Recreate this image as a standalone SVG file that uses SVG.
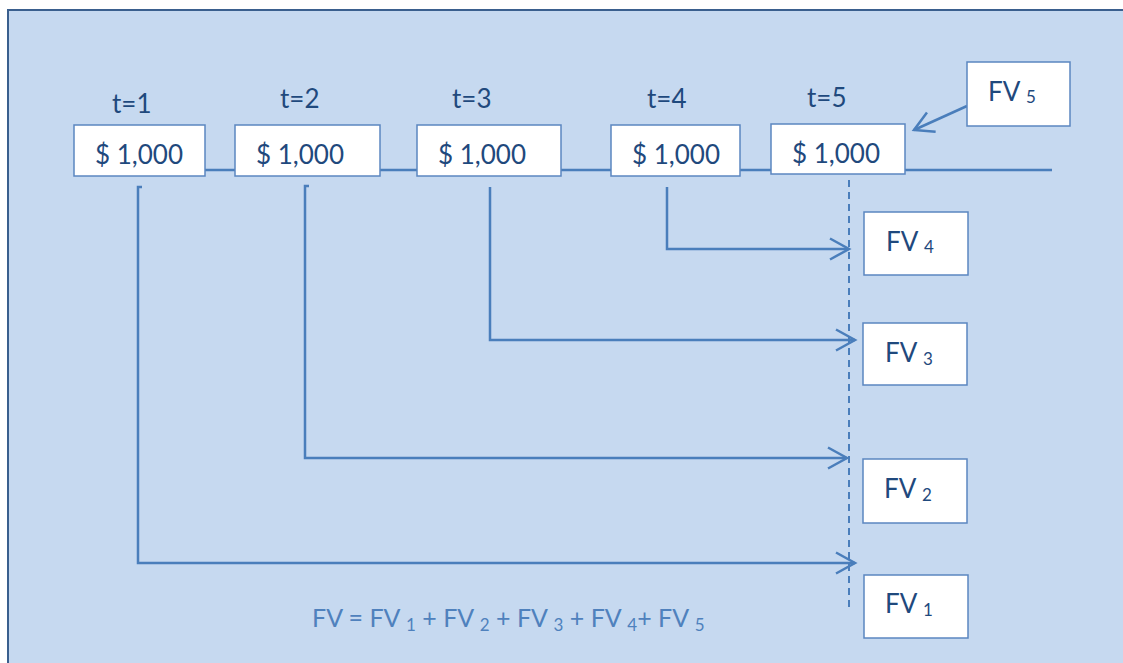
<svg xmlns="http://www.w3.org/2000/svg" width="1123" height="663" viewBox="0 0 1123 663">
  <style>
    .box { fill: #ffffff; stroke: #5B86C0; stroke-width: 1.5; }
    .lbl { font-family: Lato, "Liberation Sans", sans-serif; font-size: 26px; fill: #1F497D; }
    .sub { font-size: 17px; }
    .conn { fill: none; stroke: #4A7EBB; stroke-width: 2.5; }
    .formula { font-family: Lato, "Liberation Sans", sans-serif; font-size: 25px; fill: #4F81BD; }
  </style>
  <defs>
    <marker id="chev" markerUnits="userSpaceOnUse" markerWidth="26" markerHeight="26" viewBox="0 0 26 26" refX="22" refY="13" orient="auto">
      <path d="M3,2.5 L22,13 L3,23.5" fill="none" stroke="#4A7EBB" stroke-width="2.5"/>
    </marker>
  </defs>

  <!-- backdrop panel -->
  <rect x="0" y="0" width="1123" height="663" fill="#ffffff"/>
  <rect x="8" y="10" width="1130" height="670" fill="#C6D9F0" stroke="#3A5F8E" stroke-width="2"/>

  <!-- connectors -->
  <g id="connectors">
    <line class="conn" x1="205" y1="170" x2="1052" y2="170"/>
    <line x1="849" y1="180" x2="849" y2="612" stroke="#4A7EBB" stroke-width="2" stroke-dasharray="7,5"/>
    <path class="conn" d="M667,187 V249 H849" marker-end="url(#chev)"/>
    <path class="conn" d="M490,187 V340 H855" marker-end="url(#chev)"/>
    <path class="conn" d="M309,186 H305 V458 H847" marker-end="url(#chev)"/>
    <path class="conn" d="M142,187 H138 V563 H855" marker-end="url(#chev)"/>
    <path class="conn" d="M967,106 L914,130" marker-end="url(#chev)"/>
  </g>

  <!-- period labels -->
  <g id="labels" class="lbl">
    <text x="112" y="113">t=1</text>
    <text x="280" y="108">t=2</text>
    <text x="452" y="108">t=3</text>
    <text x="647" y="108">t=4</text>
    <text x="807" y="107">t=5</text>
  </g>

  <!-- cash flow boxes -->
  <g id="cf1"><rect class="box" x="74" y="125" width="131" height="51"/><text class="lbl" x="95" y="164">$ 1,000</text></g>
  <g id="cf2"><rect class="box" x="235" y="125" width="145" height="51"/><text class="lbl" x="256" y="164">$ 1,000</text></g>
  <g id="cf3"><rect class="box" x="417" y="125" width="144" height="51"/><text class="lbl" x="438" y="164">$ 1,000</text></g>
  <g id="cf4"><rect class="box" x="611" y="125" width="129" height="51"/><text class="lbl" x="632" y="164">$ 1,000</text></g>
  <g id="cf5"><rect class="box" x="771" y="124" width="134" height="50"/><text class="lbl" x="792" y="163">$ 1,000</text></g>

  <!-- future value boxes -->
  <g id="fv5"><rect class="box" x="967" y="62" width="103" height="64"/><text class="lbl" x="988" y="101">FV <tspan class="sub" dy="2">5</tspan></text></g>
  <g id="fv4"><rect class="box" x="864" y="212" width="104" height="63"/><text class="lbl" x="886" y="251">FV <tspan class="sub" dy="2">4</tspan></text></g>
  <g id="fv3"><rect class="box" x="863" y="323" width="104" height="62"/><text class="lbl" x="885" y="362">FV <tspan class="sub" dy="3">3</tspan></text></g>
  <g id="fv2"><rect class="box" x="863" y="459" width="104" height="64"/><text class="lbl" x="884" y="498">FV <tspan class="sub" dy="3">2</tspan></text></g>
  <g id="fv1"><rect class="box" x="864" y="575" width="104" height="63"/><text class="lbl" x="885" y="613">FV <tspan class="sub" dy="3">1</tspan></text></g>

  <!-- sum formula -->
  <g id="formula">
    <text class="formula" x="312" y="627">FV = FV <tspan class="sub" dy="4">1</tspan><tspan dy="-4"> + FV </tspan><tspan class="sub" dy="4">2</tspan><tspan dy="-4"> + FV </tspan><tspan class="sub" dy="4">3</tspan><tspan dy="-4"> + FV </tspan><tspan class="sub" dy="4">4</tspan><tspan dy="-4">+ FV </tspan><tspan class="sub" dy="4">5</tspan></text>
  </g>
</svg>
